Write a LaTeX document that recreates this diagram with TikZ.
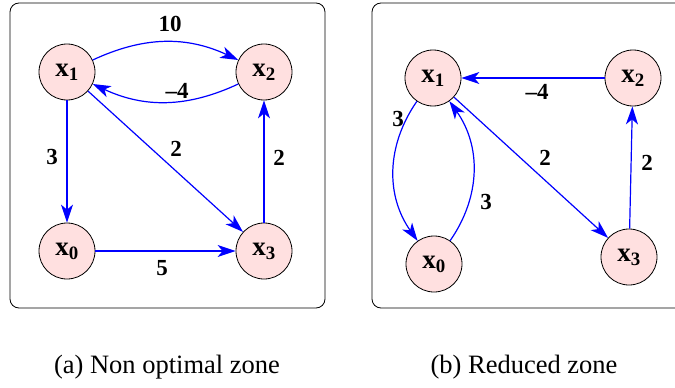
\documentclass[tikz,border=0pt]{standalone}
\usepackage{fontspec}
\setmainfont{Liberation Serif}
\usetikzlibrary{arrows.meta}
\definecolor{nodepink}{RGB}{255,224,224}
\tikzset{
  vtx/.style={circle,draw=black,line width=0.8pt,fill=nodepink,minimum size=56pt,inner sep=0pt,
    font=\fontsize{27}{29}\selectfont\bfseries},
  wedge/.style={draw=blue,line width=1.2pt,-{Stealth[length=18pt,width=12pt,inset=5pt]}},
  wt/.style={font=\fontsize{23}{25}\selectfont\bfseries},
  zone/.style={draw=black,line width=0.8pt,rounded corners=9pt},
  subcap/.style={font=\fontsize{26.5}{28}\selectfont}
}
\begin{document}
\begin{tikzpicture}[x=1pt,y=-1pt]
\useasboundingbox (0,0) rectangle (675,388);
%frames
\draw[zone] (10,3) rectangle (325,308);
\draw[zone] (372,3) rectangle (690,308);
%Zone a
\node[vtx] (a1) at (67,72) {x\textsubscript{1}};
\node[vtx] (a2) at (264,72) {x\textsubscript{2}};
\node[vtx] (a0) at (67,251) {x\textsubscript{0}};
\node[vtx] (a3) at (264,251) {x\textsubscript{3}};
\draw[wedge] (a1) to[bend left=25] (a2);
\draw[wedge] (a2) to[bend left=25] (a1);
\draw[wedge] (a1) -- (a0);
\draw[wedge] (a1) -- (a3);
\draw[wedge] (a3) -- (a2);
\draw[wedge] (a0) -- (a3);
%Zone b
\node[vtx] (b1) at (433,78) {x\textsubscript{1}};
\node[vtx] (b2) at (633,78) {x\textsubscript{2}};
\node[vtx] (b0) at (434,264) {x\textsubscript{0}};
\node[vtx] (b3) at (629,257) {x\textsubscript{3}};
\draw[wedge] (b2) -- (b1);
\draw[wedge] (b1) to[bend right=35] (b0);
\draw[wedge] (b0) to[bend right=35] (b1);
\draw[wedge] (b1) -- (b3);
\draw[wedge] (b3) -- (b2);
%weights
\node[wt] (wa12) at (170,24) {10};
\node[wt] (wa21) at (177,91) {--4};
\node[wt] (wa10) at (52,157) {3};
\node[wt] (wa13) at (176,149) {2};
\node[wt] (wa32) at (279,158) {2};
\node[wt] (wa03) at (162,268) {5};
\node[wt] (wb21) at (537,92) {--4};
\node[wt] (wb10) at (398,119) {3};
\node[wt] (wb01) at (486,202) {3};
\node[wt] (wb13) at (545,158) {2};
\node[wt] (wb32) at (647,163) {2};
%caption
\node[subcap] (capa) at (167,367) {(a) Non optimal zone};
\node[subcap] (capb) at (524,367) {(b) Reduced zone};
\end{tikzpicture}
\end{document}
